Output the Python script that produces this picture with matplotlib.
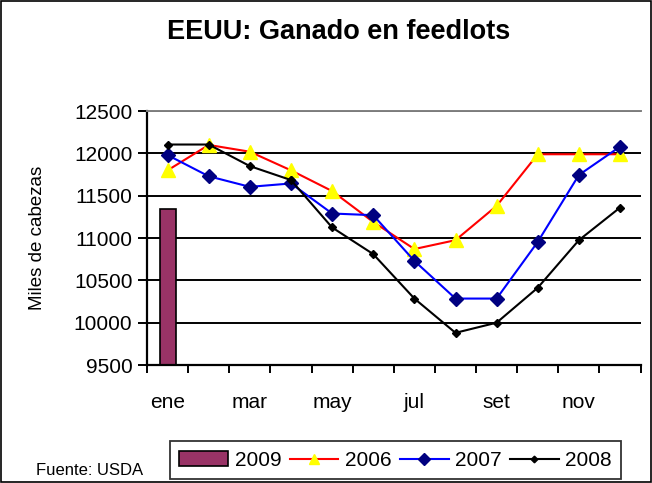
import matplotlib
matplotlib.use("Agg")
import matplotlib.pyplot as plt
import numpy as np
from matplotlib.patches import Rectangle

plt.rcParams['font.family'] = ['Liberation Sans', 'DejaVu Sans']

months = ["ene", "feb", "mar", "abr", "may", "jun", "jul", "ago", "set", "oct", "nov", "dic"]
shown_labels = ["ene", "", "mar", "", "may", "", "jul", "", "set", "", "nov", ""]
s2009 = [11340] + [np.nan] * 11
s2006 = [11800, 12100, 12020, 11800, 11555, 11190, 10870, 10975, 11380, 11990, 11990, 11990]
s2007 = [11980, 11730, 11605, 11645, 11290, 11270, 10730, 10285, 10285, 10955, 11745, 12080]
s2008 = [12105, 12105, 11850, 11685, 11125, 10810, 10285, 9880, 10000, 10413, 10975, 11360]

fig = plt.figure(figsize=(6.52, 4.83), dpi=100)
fig.patch.set_facecolor("white")
fig.patches.append(Rectangle((0.002, 0.002), 0.996, 0.996, transform=fig.transFigure,
                             fill=False, edgecolor="black", linewidth=1.2))
ax = fig.add_axes([0.2255, 0.2443, 0.757, 0.5257])

x = np.arange(len(months))
ax.bar(x, s2009, width=0.39, color="#993366", edgecolor="black", linewidth=1.2, label="2009", zorder=2)
ax.plot(x, s2006, color="red", lw=1.5, marker="^", markersize=10, markerfacecolor="yellow",
        markeredgecolor="yellow", label="2006", zorder=3)
ax.plot(x, s2007, color="blue", lw=1.5, marker="D", markersize=7.5, markerfacecolor="#000080",
        markeredgecolor="#000080", label="2007", zorder=4)
ax.plot(x, s2008, color="black", lw=1.5, marker="D", markersize=4.5, markerfacecolor="black",
        markeredgecolor="black", label="2008", zorder=5)

ax.set_xlim(-0.5, 11.5)
ax.set_ylim(9500, 12500)
ax.set_yticks(np.arange(9500, 12501, 500))
ax.yaxis.grid(True, color="black", linewidth=1.4, zorder=0)
ax.set_axisbelow(True)

ax.set_xticks(x)
ax.set_xticklabels(shown_labels, fontsize=15)
ax.tick_params(axis="x", length=0, pad=20)
ax.set_xticks(np.arange(-0.5, 12, 1), minor=True)
ax.tick_params(axis="x", which="minor", length=6, width=1.4, direction="out")
ax.tick_params(axis="y", length=6.5, width=1.4, direction="out", labelsize=15, pad=4)

ax.spines["right"].set_visible(False)
ax.spines["top"].set_color("#808080")
ax.spines["top"].set_linewidth(1.4)
ax.spines["left"].set_linewidth(1.6)
ax.spines["bottom"].set_linewidth(1.6)

ax.set_ylabel("Miles de cabezas", fontsize=13.5)
ax.yaxis.set_label_coords(-0.205, 0.5)

fig.text(0.519, 0.933, "EEUU: Ganado en feedlots", ha="center", va="center",
         fontsize=19.5, fontweight="bold")
fig.text(0.055, 0.025, "Fuente: USDA", ha="left", va="center", fontsize=12)

handles, labels = ax.get_legend_handles_labels()
order = [labels.index(l) for l in ["2009", "2006", "2007", "2008"]]
leg = fig.legend([handles[i] for i in order], [labels[i] for i in order],
                 loc="center", bbox_to_anchor=(0.6066, 0.047), ncol=4, fontsize=15,
                 frameon=True, fancybox=False, edgecolor="black", handlelength=2.35,
                 handletextpad=0.3, columnspacing=0.4, borderpad=0.45, borderaxespad=0,
                 markerscale=0.75)
leg.get_frame().set_linewidth(1.3)

fig.savefig("out.png", dpi=100)
